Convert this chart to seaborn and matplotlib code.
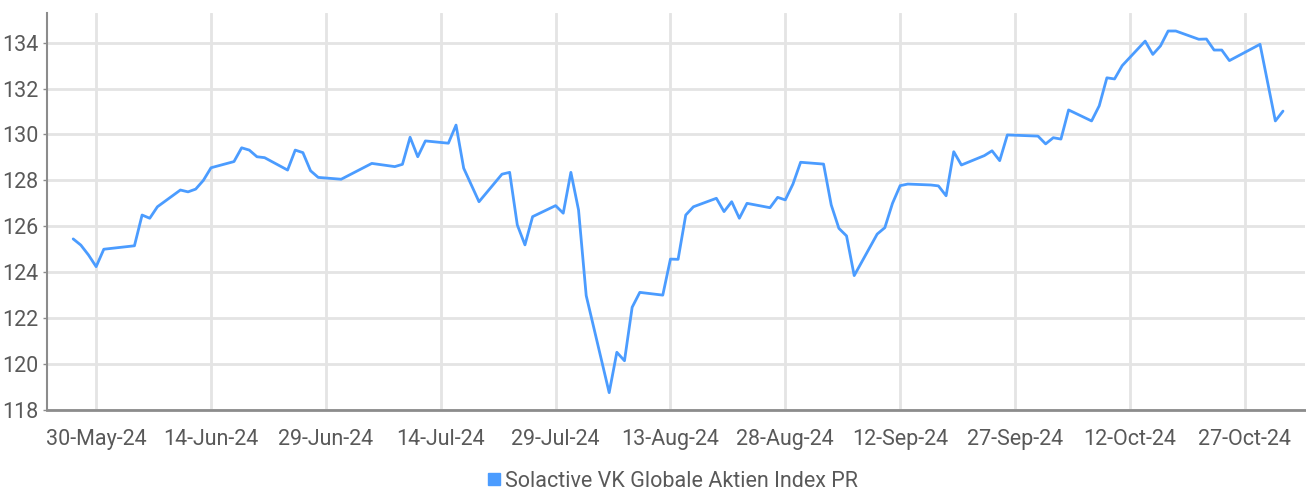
import pandas as pd
import matplotlib.pyplot as plt
import matplotlib.dates as mdates
from matplotlib.lines import Line2D
import seaborn as sns

# index levels (trading days, vertices of the line)
dates = [
    "2024-05-27", "2024-05-28", "2024-05-29", "2024-05-30", "2024-05-31",
    "2024-06-04", "2024-06-05", "2024-06-06", "2024-06-07", "2024-06-10",
    "2024-06-11", "2024-06-12", "2024-06-13", "2024-06-14", "2024-06-17",
    "2024-06-18", "2024-06-19", "2024-06-20", "2024-06-21", "2024-06-24",
    "2024-06-25", "2024-06-26", "2024-06-27", "2024-06-28", "2024-07-01",
    "2024-07-05", "2024-07-08", "2024-07-09", "2024-07-10", "2024-07-11",
    "2024-07-12", "2024-07-15", "2024-07-16", "2024-07-17", "2024-07-19",
    "2024-07-22", "2024-07-23", "2024-07-24", "2024-07-25", "2024-07-26",
    "2024-07-29", "2024-07-30", "2024-07-31", "2024-08-01", "2024-08-02",
    "2024-08-05", "2024-08-06", "2024-08-07", "2024-08-08", "2024-08-09",
    "2024-08-12", "2024-08-13", "2024-08-14", "2024-08-15", "2024-08-16",
    "2024-08-19", "2024-08-20", "2024-08-21", "2024-08-22", "2024-08-23",
    "2024-08-26", "2024-08-27", "2024-08-28", "2024-08-29", "2024-08-30",
    "2024-09-02", "2024-09-03", "2024-09-04", "2024-09-05", "2024-09-06",
    "2024-09-09", "2024-09-10", "2024-09-11", "2024-09-12", "2024-09-13",
    "2024-09-16", "2024-09-17", "2024-09-18", "2024-09-19", "2024-09-20",
    "2024-09-23", "2024-09-24", "2024-09-25", "2024-09-26", "2024-09-30",
    "2024-10-01", "2024-10-02", "2024-10-03", "2024-10-04", "2024-10-07",
    "2024-10-08", "2024-10-09", "2024-10-10", "2024-10-11", "2024-10-14",
    "2024-10-15", "2024-10-16", "2024-10-17", "2024-10-18", "2024-10-21",
    "2024-10-22", "2024-10-23", "2024-10-24", "2024-10-25", "2024-10-29",
    "2024-10-31", "2024-11-01",
]
values = [
    125.45, 125.18, 124.75, 124.24, 125.00,
    125.15, 126.49, 126.35, 126.85, 127.58,
    127.50, 127.62, 128.00, 128.55, 128.82,
    129.42, 129.32, 129.03, 128.99, 128.45,
    129.32, 129.21, 128.42, 128.13, 128.05,
    128.74, 128.60, 128.70, 129.88, 129.03,
    129.72, 129.62, 130.41, 128.53, 127.07,
    128.27, 128.35, 126.06, 125.19, 126.42,
    126.90, 126.57, 128.35, 126.71, 122.98,
    118.75, 120.51, 120.14, 122.47, 123.12,
    123.00, 124.57, 124.56, 126.49, 126.85,
    127.22, 126.64, 127.07, 126.35, 127.00,
    126.81, 127.26, 127.15, 127.84, 128.79,
    128.71, 126.93, 125.91, 125.58, 123.85,
    125.66, 125.94, 127.00, 127.77, 127.84,
    127.80, 127.76, 127.33, 129.25, 128.67,
    129.08, 129.29, 128.86, 129.98, 129.93,
    129.59, 129.86, 129.80, 131.07, 130.59,
    131.25, 132.47, 132.42, 133.00, 134.07,
    133.49, 133.86, 134.51, 134.51, 134.15,
    134.16, 133.68, 133.68, 133.22, 133.93,
    130.59, 131.02,
]
series_name = "Solactive VK Globale Aktien Index PR"
y_ticks = list(range(118, 135, 2))

df = pd.DataFrame({"date": pd.to_datetime(dates), "value": values})

sns.set_style("white")
plt.rcParams["font.family"] = ["Roboto", "DejaVu Sans"]

line_color = "#4b9cff"
grid_color = "#e4e4e4"
text_color = "#595959"

fig = plt.figure(figsize=(13.06, 4.95), dpi=100)
ax = fig.add_axes([0.036, 0.172, 0.963, 0.802])

sns.lineplot(data=df, x="date", y="value", ax=ax, color=line_color,
             linewidth=2.0, legend=False)

ax.set_xlim(pd.Timestamp("2024-05-23 14:00"), pd.Timestamp("2024-11-03 20:00"))
ax.set_ylim(118, 135.3)

x_ticks = pd.date_range("2024-05-30", periods=11, freq="15D")
ax.set_xticks(x_ticks)
ax.xaxis.set_major_formatter(mdates.DateFormatter("%d-%b-%y"))
ax.set_yticks(y_ticks)

ax.grid(True, color=grid_color, linewidth=2.0)
ax.set_axisbelow(True)
ax.set_xlabel("")
ax.set_ylabel("")

for side in ["top", "right"]:
    ax.spines[side].set_visible(False)
ax.spines["left"].set_color("#8c8c8c")
ax.spines["left"].set_linewidth(1.5)
ax.spines["bottom"].set_color("#8c8c8c")
ax.spines["bottom"].set_linewidth(2.0)

ax.tick_params(axis="x", length=0, pad=14, labelsize=15.5, colors=text_color)
ax.tick_params(axis="y", length=3, width=1, pad=3, labelsize=15.5,
               colors=text_color, color="#8c8c8c", left=True)

handle = Line2D([], [], marker="s", linestyle="none", markersize=8,
                color=line_color)
fig.legend([handle], [series_name], loc="center", bbox_to_anchor=(0.514, 0.028),
           frameon=False, fontsize=15.5, labelcolor=text_color,
           handletextpad=0.1, handlelength=0.8)

fig.savefig("out.png", dpi=100)
